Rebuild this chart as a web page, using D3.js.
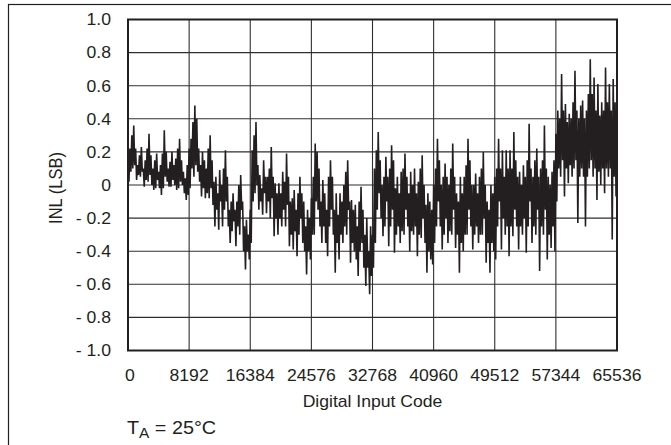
<!DOCTYPE html>
<html>
<head>
<meta charset="utf-8">
<script src="https://cdn.jsdelivr.net/npm/d3@7"></script>
<style>
  html, body { margin: 0; padding: 0; background: #fff; }
  svg { display: block; }
  text { font-family: "Liberation Sans", Arial, sans-serif; fill: #231f20; }
</style>
</head>
<body>
<svg id="chart" width="671" height="445"></svg>
<script>
// ---- data: per-bin (256 codes) maximum and minimum INL ----
const binSize = 256;
const upper = [
  0.10, 0.22, 0.30, 0.36, 0.22, 0.12, 0.18, 0.23, 0.10, 0.15, 0.22, 0.31, 0.18, 0.10, 0.15, 0.19,
  0.08, 0.12, 0.19, 0.33, 0.20, 0.10, 0.14, 0.20, 0.12, 0.16, 0.22, 0.28, 0.15, 0.08, 0.04, 0.12, 0.22,
  0.28, 0.38, 0.48, 0.40, 0.22, 0.12, 0.20, 0.15, 0.10, 0.22, 0.30, 0.15, 0.02, 0.05, -0.05, 0.09,
  0.00, 0.10, 0.21, 0.05, -0.15, -0.10, -0.05, -0.15, -0.10, 0.00, 0.06, -0.10, -0.25, -0.21, -0.30, -0.15,
  0.21, 0.30, 0.38, 0.12, 0.06, -0.02, 0.15, 0.05, 0.05, 0.10, 0.23, 0.05, 0.01, -0.05, 0.01, -0.05,
  0.08, 0.02, 0.19, 0.05, -0.10, -0.08, -0.03, -0.15, -0.05, 0.05, -0.05, -0.10, -0.25, -0.15, -0.20, -0.08,
  0.05, 0.25, 0.20, 0.10, -0.10, 0.03, -0.05, -0.15, 0.05, 0.15, 0.05, -0.15, -0.05, -0.18, -0.05, -0.10,
  0.00, 0.08, 0.15, -0.10, -0.09, -0.15, -0.12, -0.25, -0.10, -0.01, -0.15, -0.30, -0.20, -0.40, -0.25, -0.30,
  0.10, 0.21, 0.32, 0.15, 0.00, 0.05, 0.17, 0.05, 0.10, 0.24, 0.15, -0.02, 0.05, -0.05, 0.08, 0.10,
  0.19, 0.05, -0.05, 0.08, 0.00, 0.10, -0.05, 0.02, 0.10, 0.18, 0.00, -0.12, -0.05, -0.10, -0.15, 0.00,
  0.10, 0.28, 0.15, 0.00, 0.05, 0.13, 0.05, 0.00, 0.10, 0.25, 0.05, -0.05, -0.10, 0.05, -0.05, 0.05,
  0.12, 0.28, 0.15, 0.00, 0.00, 0.07, -0.05, 0.05, 0.10, 0.20, 0.00, -0.10, -0.15, 0.00, -0.05, 0.05,
  0.10, 0.28, 0.10, 0.21, 0.05, 0.21, 0.10, 0.21, 0.10, 0.32, 0.15, 0.05, 0.08, 0.00, 0.12, 0.05,
  0.15, 0.37, 0.10, 0.05, 0.15, 0.22, 0.05, 0.10, 0.15, 0.36, 0.10, 0.05, 0.00, 0.08, 0.15, 0.31,
  0.45, 0.40, 0.67, 0.45, 0.49, 0.38, 0.43, 0.40, 0.50, 0.69, 0.45, 0.40, 0.48, 0.51, 0.40, 0.45,
  0.55, 0.76, 0.55, 0.65, 0.45, 0.61, 0.42, 0.50, 0.45, 0.71, 0.50, 0.61, 0.45, 0.64, 0.50
];
const lower = [
  0.02, 0.08, 0.10, 0.12, 0.03, 0.06, 0.05, 0.08, -0.01, 0.03, 0.02, 0.06, 0.00, -0.03, -0.02, 0.03,
  -0.02, -0.06, -0.02, 0.05, 0.02, -0.01, -0.01, 0.03, 0.00, -0.03, -0.02, 0.02, 0.00, -0.05, -0.09, -0.06, -0.02,
  0.10, 0.05, 0.12, 0.08, 0.02, -0.07, -0.02, -0.08, -0.05, -0.08, -0.02, -0.12, -0.25, -0.15, -0.27, -0.10,
  -0.25, -0.15, -0.10, -0.25, -0.35, -0.28, -0.22, -0.37, -0.25, -0.30, -0.15, -0.40, -0.51, -0.40, -0.45, -0.35,
  -0.10, -0.05, 0.00, -0.15, -0.10, -0.18, -0.05, -0.17, -0.10, -0.20, -0.08, -0.31, -0.20, -0.30, -0.20, -0.25,
  -0.15, -0.25, -0.12, -0.37, -0.30, -0.39, -0.28, -0.43, -0.30, -0.20, -0.35, -0.40, -0.54, -0.40, -0.45, -0.30,
  -0.30, -0.10, -0.15, -0.25, -0.35, -0.25, -0.35, -0.43, -0.25, -0.15, -0.30, -0.53, -0.35, -0.45, -0.30, -0.35,
  -0.25, -0.30, -0.15, -0.47, -0.35, -0.40, -0.45, -0.55, -0.40, -0.35, -0.50, -0.61, -0.50, -0.66, -0.55, -0.50,
  -0.35, -0.15, -0.05, -0.20, -0.31, -0.25, -0.10, -0.37, -0.25, -0.15, -0.41, -0.30, -0.25, -0.35, -0.28, -0.30,
  -0.15, -0.25, -0.40, -0.28, -0.30, -0.25, -0.43, -0.30, -0.32, -0.20, -0.35, -0.53, -0.40, -0.45, -0.48, -0.35,
  -0.25, -0.10, -0.25, -0.39, -0.30, -0.20, -0.35, -0.28, -0.30, -0.15, -0.38, -0.30, -0.53, -0.35, -0.40, -0.30,
  -0.30, -0.15, -0.25, -0.39, -0.30, -0.25, -0.35, -0.30, -0.30, -0.20, -0.47, -0.35, -0.53, -0.35, -0.40, -0.45,
  -0.25, -0.10, -0.39, -0.20, -0.30, -0.25, -0.43, -0.25, -0.31, -0.15, -0.25, -0.39, -0.25, -0.30, -0.20, -0.41,
  -0.25, -0.10, -0.35, -0.25, -0.30, -0.15, -0.52, -0.25, -0.30, -0.15, -0.45, -0.30, -0.38, -0.25, -0.40, -0.10,
  0.10, 0.05, 0.15, -0.07, 0.10, 0.01, 0.12, 0.05, 0.10, 0.15, -0.23, 0.05, 0.10, 0.05, -0.25, 0.05,
  0.10, 0.15, 0.05, 0.10, -0.09, 0.08, 0.00, 0.10, -0.05, 0.10, 0.05, 0.10, -0.33, 0.05, -0.07
];
const xTicks = [0, 8192, 16384, 24576, 32768, 40960, 49152, 57344, 65536];
const xTickLabels = ["0", "8192", "16384", "24576", "32768", "40960", "49512", "57344", "65536"];
const yTicks = [1.0, 0.8, 0.6, 0.4, 0.2, 0, -0.2, -0.4, -0.6, -0.8, -1.0];
const yTickLabels = ["1.0", "0.8", "0.6", "0.4", "0.2", "0", "- 0.2", "- 0.4", "- 0.6", "- 0.8", "- 1.0"];
const xTitle = "Digital Input Code";
const yTitle = "INL (LSB)";

// build the trace: max then min within each bin
const trace = [];
upper.forEach((u, i) => {
  trace.push({ code: i * binSize, v: u });
  trace.push({ code: i * binSize + binSize / 2, v: lower[i] });
});

// ---- layout ----
const svg = d3.select("#chart");
const L = 128, R = 617, T = 19.5, B = 350.5;
const sx = 1.1; // horizontal text stretch
const x = d3.scaleLinear().domain([0, 65536]).range([L, R]);
const y = d3.scaleLinear().domain([-1, 1]).range([B, T]);

// outer frame
svg.append("rect").attr("x", 8.5).attr("y", 4.5).attr("width", 700).attr("height", 500)
  .attr("fill", "none").attr("stroke", "#231f20").attr("stroke-width", 1.2);

// gridlines
const g = svg.append("g");
g.selectAll("line.h").data(yTicks).join("line")
  .attr("x1", L).attr("x2", R).attr("y1", d => y(d)).attr("y2", d => y(d))
  .attr("stroke", "#2f2f2f").attr("stroke-width", 1.1);
g.selectAll("line.v").data(xTicks).join("line")
  .attr("y1", T).attr("y2", B).attr("x1", d => x(d)).attr("x2", d => x(d))
  .attr("stroke", "#2f2f2f").attr("stroke-width", 1.1);

// data line
const line = d3.line().x(d => x(d.code)).y(d => y(d.v));
svg.append("path").datum(trace).attr("d", line)
  .attr("fill", "none").attr("stroke", "#231f20").attr("stroke-width", 1.6)
  .attr("stroke-linejoin", "miter").attr("stroke-miterlimit", 2);

// plot border
svg.append("rect").attr("x", L).attr("y", T).attr("width", R - L).attr("height", B - T)
  .attr("fill", "none").attr("stroke", "#231f20").attr("stroke-width", 2);

function txt(px, py, s, anchor, size) {
  return svg.append("text")
    .attr("transform", `translate(${px},${py}) scale(${sx},1)`)
    .attr("text-anchor", anchor).attr("font-size", size).text(s);
}

// y tick labels
yTicks.forEach((v, i) => txt(111, y(v) + 5.8, yTickLabels[i], "end", 16));
// x tick labels
xTicks.forEach((v, i) => txt(x(v) + (i === 0 ? 2 : 0), 381, xTickLabels[i], "middle", 16));

// titles
txt((L + R) / 2, 407, xTitle, "middle", 16);
svg.append("text")
  .attr("transform", `translate(62,188) rotate(-90) scale(1,${sx})`)
  .attr("text-anchor", "middle").attr("font-size", 16.5).text(yTitle);

// T_A annotation
const ta = svg.append("text")
  .attr("transform", `translate(127,434) scale(${sx},1)`)
  .attr("font-size", 18);
ta.append("tspan").text("T");
ta.append("tspan").attr("dy", 4).attr("font-size", 14).text("A");
ta.append("tspan").attr("dy", -4).text(" = 25°C");
</script>
</body>
</html>
